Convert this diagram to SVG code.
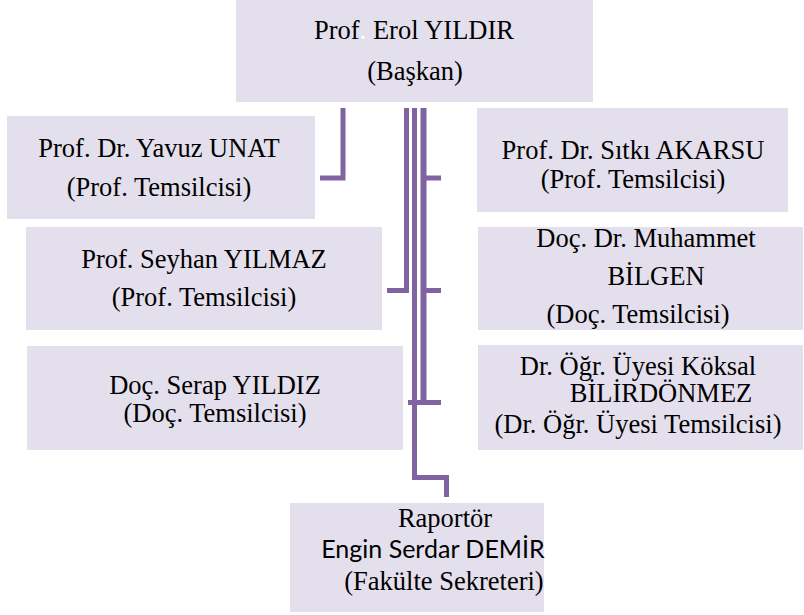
<svg xmlns="http://www.w3.org/2000/svg" width="804" height="615" viewBox="0 0 804 615">
<style>
.box{fill:#E4DFEC}
text{fill:#000;text-anchor:middle}
.ln{fill:none;stroke:#8064A2;stroke-width:5;stroke-linejoin:miter;stroke-linecap:butt}
</style>
<rect width="804" height="615" fill="#fff"/>
<g id="connectors">
<path class="ln" d="M343,108 V178 H320"/>
<path class="ln" d="M406.5,108 V290.5 H387"/>
<path class="ln" d="M414.5,108 V477.5 H446.5 V497"/>
<path class="ln" style="stroke-width:6" d="M423.5,108 V402"/>
<path class="ln" d="M423,178 H441 M423,290.5 H441 M408,402.5 H441"/>
</g>
<g font-family="Liberation Serif, DejaVu Serif, serif" font-size="26.5">
<g id="baskan">
<rect class="box" x="236" y="0" width="357" height="102"/>
<text x="414" y="39"><tspan>Prof</tspan><tspan fill="#fff">.</tspan> Erol YILDIR</text>
<text x="415" y="80">(Başkan)</text>
</g>
<g id="yavuz">
<rect class="box" x="7" y="116" width="308" height="103"/>
<text x="159" y="157">Prof. Dr. Yavuz UNAT</text>
<text x="159" y="196">(Prof. Temsilcisi)</text>
</g>
<g id="sitki">
<rect class="box" x="477" y="108" width="311" height="104"/>
<text x="633" y="159">Prof. Dr. Sıtkı AKARSU</text>
<text x="633" y="188">(Prof. Temsilcisi)</text>
</g>
<g id="seyhan">
<rect class="box" x="26" y="227" width="356" height="103"/>
<text x="204" y="268">Prof. Seyhan YILMAZ</text>
<text x="204" y="306">(Prof. Temsilcisi)</text>
</g>
<g id="muhammet">
<rect class="box" x="478" y="227" width="325" height="103"/>
<text x="646" y="247">Doç. Dr. Muhammet</text>
<text x="656" y="285">BİLGEN</text>
<text x="638" y="323">(Doç. Temsilcisi)</text>
</g>
<g id="serap">
<rect class="box" x="27" y="346" width="376" height="104"/>
<text x="215" y="394">Doç. Serap YILDIZ</text>
<text x="215" y="422">(Doç. Temsilcisi)</text>
</g>
<g id="koksal">
<rect class="box" x="478" y="345" width="325" height="105"/>
<text x="638" y="375">Dr. Öğr. Üyesi Köksal</text>
<text x="661" y="402">BİLİRDÖNMEZ</text>
<text x="638" y="433">(Dr. Öğr. Üyesi Temsilcisi)</text>
</g>
<g id="raportor">
<rect class="box" x="290" y="503" width="254" height="109"/>
<text x="445" y="527">Raportör</text>
<text x="433" y="558" font-family="Lato, Open Sans, sans-serif" font-size="25">Engin Serdar DEMİR</text>
<text x="444" y="590">(Fakülte Sekreteri)</text>
</g>
</g>
</svg>
